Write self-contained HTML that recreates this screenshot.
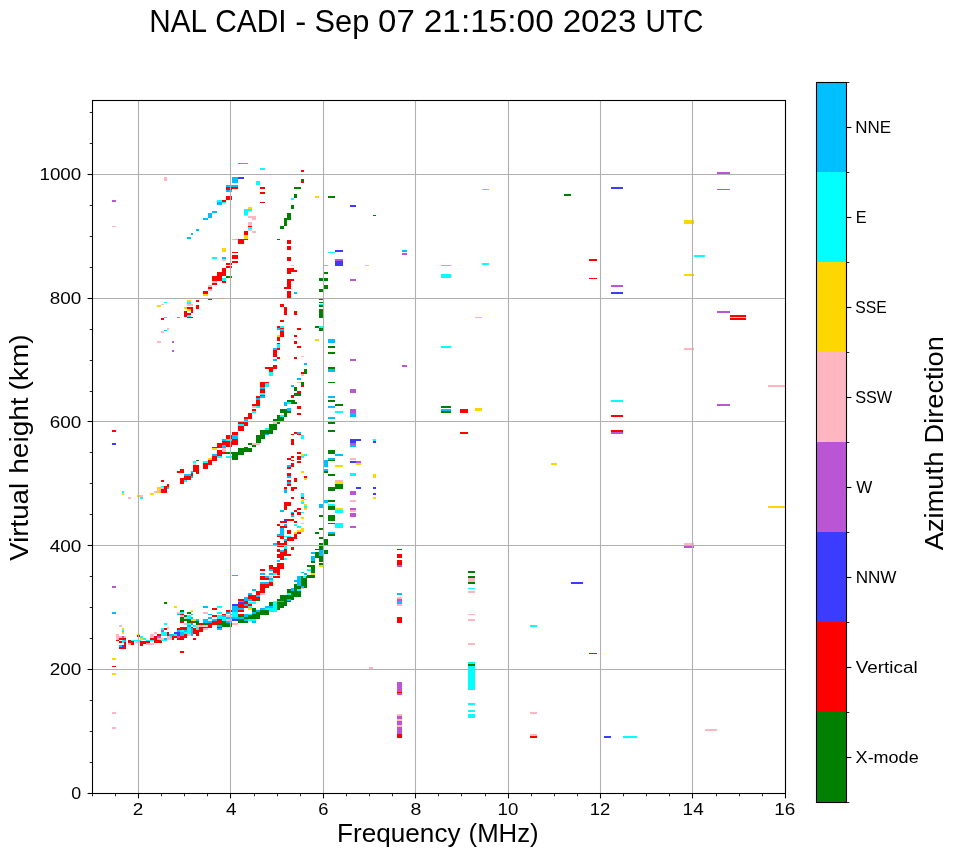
<!DOCTYPE html>
<html><head><meta charset="utf-8"><title>NAL CADI ionogram</title>
<style>html,body{margin:0;padding:0;background:#fff}body{width:958px;height:857px;overflow:hidden;font-family:"Liberation Sans",sans-serif}svg{display:block}text{font-family:"Liberation Sans",sans-serif;fill:#000}</style>
</head><body>
<svg width="958" height="857" viewBox="0 0 958 857" style="will-change:transform">
<g shape-rendering="crispEdges">
<rect x="112" y="586" width="4" height="2" fill="#ba55d3"/>
<rect x="112" y="612" width="4" height="2" fill="#00bfff"/>
<rect x="112" y="658" width="4" height="2" fill="#ffd700"/>
<rect x="112" y="666" width="4" height="1" fill="#ff0000"/>
<rect x="112" y="673" width="4" height="2" fill="#ffd700"/>
<rect x="232" y="575" width="6" height="1" fill="#00bfff"/>
<rect x="164" y="602" width="3" height="2" fill="#008000"/>
<rect x="174" y="606" width="3" height="2" fill="#ffd700"/>
<rect x="164" y="623" width="3" height="2" fill="#00ffff"/>
<rect x="180" y="651" width="4" height="2" fill="#ff0000"/>
<rect x="193" y="638" width="3" height="2" fill="#ff0000"/>
<rect x="119" y="625" width="3" height="2" fill="#ffb6c1"/>
<rect x="122" y="628" width="2" height="6" fill="#ffd700"/>
<rect x="122" y="630" width="2" height="2" fill="#00ffff"/>
<rect x="116" y="634" width="3" height="6" fill="#ffb6c1"/>
<rect x="119" y="636" width="7" height="2" fill="#ffb6c1"/>
<rect x="122" y="636" width="2" height="2" fill="#ba55d3"/>
<rect x="116" y="640" width="3" height="1" fill="#ff0000"/>
<rect x="119" y="638" width="7" height="2" fill="#ff0000"/>
<rect x="119" y="641" width="3" height="2" fill="#ff0000"/>
<rect x="122" y="640" width="2" height="3" fill="#00ffff"/>
<rect x="124" y="640" width="2" height="3" fill="#00bfff"/>
<rect x="124" y="642" width="2" height="7" fill="#ff0000"/>
<rect x="119" y="647" width="7" height="2" fill="#ff0000"/>
<rect x="119" y="645" width="3" height="2" fill="#00bfff"/>
<rect x="122" y="645" width="2" height="2" fill="#3c3cff"/>
<rect x="128" y="640" width="3" height="3" fill="#ff0000"/>
<rect x="128" y="643" width="3" height="2" fill="#ffb6c1"/>
<rect x="131" y="641" width="3" height="4" fill="#ff0000"/>
<rect x="131" y="640" width="10" height="1" fill="#00ffff"/>
<rect x="135" y="641" width="5" height="2" fill="#ffb6c1"/>
<rect x="137" y="634" width="3" height="2" fill="#ffd700"/>
<rect x="137" y="635" width="3" height="2" fill="#ff0000"/>
<rect x="140" y="636" width="3" height="2" fill="#00ffff"/>
<rect x="140" y="638" width="3" height="2" fill="#ffd700"/>
<rect x="143" y="638" width="3" height="2" fill="#00ffff"/>
<rect x="140" y="641" width="10" height="3" fill="#ff0000"/>
<rect x="140" y="644" width="3" height="2" fill="#ff0000"/>
<rect x="146" y="643" width="8" height="2" fill="#ffb6c1"/>
<rect x="146" y="640" width="8" height="1" fill="#00ffff"/>
<rect x="150" y="634" width="4" height="4" fill="#ffb6c1"/>
<rect x="154" y="632" width="3" height="2" fill="#ffb6c1"/>
<rect x="150" y="638" width="7" height="2" fill="#ff0000"/>
<rect x="154" y="636" width="3" height="2" fill="#ff0000"/>
<rect x="154" y="640" width="8" height="3" fill="#ff0000"/>
<rect x="157" y="634" width="4" height="2" fill="#ff0000"/>
<rect x="157" y="636" width="4" height="2" fill="#ba55d3"/>
<rect x="157" y="638" width="8" height="2" fill="#ffb6c1"/>
<rect x="161" y="628" width="3" height="2" fill="#00ffff"/>
<rect x="161" y="630" width="3" height="2" fill="#ba55d3"/>
<rect x="164" y="628" width="3" height="2" fill="#ff0000"/>
<rect x="167" y="627" width="2" height="2" fill="#ffb6c1"/>
<rect x="161" y="632" width="6" height="4" fill="#00ffff"/>
<rect x="167" y="632" width="2" height="4" fill="#ff0000"/>
<rect x="164" y="638" width="3" height="2" fill="#00bfff"/>
<rect x="167" y="636" width="5" height="4" fill="#ffb6c1"/>
<rect x="161" y="640" width="6" height="1" fill="#00ffff"/>
<rect x="172" y="636" width="2" height="4" fill="#ff0000"/>
<rect x="169" y="634" width="5" height="2" fill="#00bfff"/>
<rect x="174" y="632" width="7" height="3" fill="#3c3cff"/>
<rect x="177" y="627" width="10" height="3" fill="#ff0000"/>
<rect x="180" y="630" width="8" height="4" fill="#00ffff"/>
<rect x="180" y="632" width="5" height="2" fill="#00bfff"/>
<rect x="177" y="636" width="8" height="4" fill="#ff0000"/>
<rect x="177" y="635" width="3" height="2" fill="#ba55d3"/>
<rect x="183" y="634" width="4" height="4" fill="#ff0000"/>
<rect x="187" y="634" width="3" height="2" fill="#ffb6c1"/>
<rect x="183" y="627" width="5" height="3" fill="#ff0000"/>
<rect x="187" y="626" width="6" height="9" fill="#00ffff"/>
<rect x="193" y="627" width="7" height="5" fill="#ff0000"/>
<rect x="196" y="632" width="3" height="4" fill="#ff0000"/>
<rect x="199" y="628" width="4" height="4" fill="#ff0000"/>
<rect x="192" y="622" width="5" height="6" fill="#ff0000"/>
<rect x="192" y="624" width="5" height="3" fill="#00ffff"/>
<rect x="196" y="625" width="12" height="2" fill="#ffb6c1"/>
<rect x="203" y="627" width="5" height="1" fill="#ba55d3"/>
<rect x="208" y="624" width="4" height="3" fill="#ff0000"/>
<rect x="199" y="623" width="5" height="2" fill="#ff0000"/>
<rect x="203" y="628" width="5" height="2" fill="#ffb6c1"/>
<rect x="180" y="610" width="4" height="2" fill="#008000"/>
<rect x="177" y="612" width="3" height="2" fill="#ffb6c1"/>
<rect x="180" y="612" width="4" height="2" fill="#00ffff"/>
<rect x="177" y="614" width="3" height="1" fill="#00bfff"/>
<rect x="187" y="612" width="4" height="2" fill="#008000"/>
<rect x="191" y="610" width="2" height="2" fill="#ffd700"/>
<rect x="180" y="614" width="4" height="2" fill="#ffb6c1"/>
<rect x="187" y="614" width="5" height="4" fill="#00ffff"/>
<rect x="183" y="614" width="3" height="2" fill="#ff0000"/>
<rect x="180" y="616" width="8" height="4" fill="#008000"/>
<rect x="187" y="618" width="12" height="3" fill="#008000"/>
<rect x="191" y="619" width="5" height="2" fill="#ffd700"/>
<rect x="196" y="619" width="3" height="2" fill="#00bfff"/>
<rect x="184" y="616" width="3" height="2" fill="#ffb6c1"/>
<rect x="180" y="621" width="4" height="2" fill="#ff0000"/>
<rect x="184" y="623" width="3" height="2" fill="#ffb6c1"/>
<rect x="187" y="620" width="5" height="2" fill="#008000"/>
<rect x="187" y="623" width="8" height="2" fill="#00ffff"/>
<rect x="196" y="621" width="3" height="3" fill="#008000"/>
<rect x="188" y="624" width="3" height="2" fill="#00bfff"/>
<rect x="203" y="606" width="5" height="2" fill="#00bfff"/>
<rect x="212" y="608" width="5" height="2" fill="#ff0000"/>
<rect x="217" y="606" width="5" height="2" fill="#00ffff"/>
<rect x="203" y="612" width="5" height="2" fill="#ffb6c1"/>
<rect x="208" y="614" width="4" height="1" fill="#00ffff"/>
<rect x="208" y="617" width="4" height="2" fill="#00bfff"/>
<rect x="212" y="615" width="5" height="2" fill="#ff0000"/>
<rect x="203" y="619" width="9" height="4" fill="#00bfff"/>
<rect x="217" y="612" width="5" height="9" fill="#00ffff"/>
<rect x="212" y="619" width="5" height="2" fill="#00ffff"/>
<rect x="212" y="621" width="10" height="4" fill="#ff0000"/>
<rect x="199" y="623" width="23" height="2" fill="#ff0000"/>
<rect x="203" y="623" width="8" height="2" fill="#008000"/>
<rect x="217" y="621" width="15" height="6" fill="#008000"/>
<rect x="217" y="626" width="5" height="2" fill="#00ffff"/>
<rect x="217" y="628" width="5" height="2" fill="#00bfff"/>
<rect x="222" y="615" width="5" height="6" fill="#00ffff"/>
<rect x="222" y="613" width="5" height="2" fill="#ff0000"/>
<rect x="226" y="610" width="6" height="2" fill="#ff0000"/>
<rect x="226" y="612" width="6" height="2" fill="#00bfff"/>
<rect x="226" y="615" width="6" height="6" fill="#ffb6c1"/>
<rect x="227" y="617" width="5" height="2" fill="#00ffff"/>
<rect x="222" y="621" width="10" height="6" fill="#008000"/>
<rect x="232" y="604" width="6" height="2" fill="#3c3cff"/>
<rect x="232" y="606" width="6" height="10" fill="#00bfff"/>
<rect x="232" y="612" width="6" height="5" fill="#00ffff"/>
<rect x="232" y="618" width="6" height="2" fill="#3c3cff"/>
<rect x="232" y="623" width="6" height="2" fill="#ffb6c1"/>
<rect x="238" y="599" width="6" height="2" fill="#ff0000"/>
<rect x="238" y="602" width="6" height="2" fill="#3c3cff"/>
<rect x="238" y="604" width="10" height="4" fill="#ff0000"/>
<rect x="238" y="610" width="6" height="2" fill="#ff0000"/>
<rect x="238" y="612" width="6" height="2" fill="#00ffff"/>
<rect x="238" y="614" width="14" height="5" fill="#008000"/>
<rect x="244" y="616" width="8" height="2" fill="#00bfff"/>
<rect x="238" y="619" width="10" height="3" fill="#008000"/>
<rect x="244" y="597" width="4" height="4" fill="#00bfff"/>
<rect x="244" y="601" width="4" height="3" fill="#ff0000"/>
<rect x="248" y="593" width="4" height="3" fill="#00bfff"/>
<rect x="248" y="596" width="4" height="8" fill="#ff0000"/>
<rect x="248" y="601" width="4" height="5" fill="#00ffff"/>
<rect x="248" y="608" width="4" height="2" fill="#ffd700"/>
<rect x="244" y="604" width="4" height="2" fill="#00bfff"/>
<rect x="232" y="604" width="6" height="2" fill="#3c3cff"/>
<rect x="232" y="606" width="6" height="8" fill="#00bfff"/>
<rect x="232" y="612" width="6" height="5" fill="#00ffff"/>
<rect x="230" y="610" width="2" height="7" fill="#ff0000"/>
<rect x="232" y="619" width="6" height="2" fill="#3c3cff"/>
<rect x="230" y="623" width="2" height="4" fill="#008000"/>
<rect x="232" y="623" width="6" height="2" fill="#ffb6c1"/>
<rect x="238" y="599" width="6" height="2" fill="#ff0000"/>
<rect x="238" y="601" width="6" height="2" fill="#3c3cff"/>
<rect x="238" y="604" width="10" height="4" fill="#ff0000"/>
<rect x="244" y="597" width="4" height="4" fill="#00bfff"/>
<rect x="244" y="601" width="4" height="3" fill="#ff0000"/>
<rect x="244" y="604" width="4" height="2" fill="#00ffff"/>
<rect x="238" y="608" width="6" height="2" fill="#00bfff"/>
<rect x="238" y="610" width="6" height="2" fill="#ff0000"/>
<rect x="248" y="606" width="4" height="2" fill="#00ffff"/>
<rect x="248" y="608" width="4" height="2" fill="#ffd700"/>
<rect x="248" y="595" width="8" height="5" fill="#ff0000"/>
<rect x="248" y="593" width="4" height="2" fill="#00bfff"/>
<rect x="248" y="600" width="4" height="2" fill="#00bfff"/>
<rect x="252" y="601" width="4" height="2" fill="#00ffff"/>
<rect x="256" y="599" width="4" height="2" fill="#008000"/>
<rect x="260" y="593" width="5" height="2" fill="#ffb6c1"/>
<rect x="252" y="589" width="4" height="2" fill="#00bfff"/>
<rect x="252" y="608" width="4" height="3" fill="#008000"/>
<rect x="256" y="610" width="4" height="2" fill="#00bfff"/>
<rect x="238" y="614" width="10" height="2" fill="#008000"/>
<rect x="244" y="614" width="4" height="2" fill="#00bfff"/>
<rect x="248" y="614" width="13" height="5" fill="#008000"/>
<rect x="248" y="619" width="5" height="2" fill="#00ffff"/>
<rect x="238" y="619" width="10" height="4" fill="#008000"/>
<rect x="252" y="621" width="4" height="2" fill="#00bfff"/>
<rect x="256" y="611" width="13" height="4" fill="#008000"/>
<rect x="260" y="608" width="17" height="4" fill="#00ffff"/>
<rect x="260" y="608" width="5" height="2" fill="#00bfff"/>
<rect x="265" y="606" width="5" height="2" fill="#00bfff"/>
<rect x="269" y="602" width="4" height="4" fill="#008000"/>
<rect x="273" y="601" width="3" height="1" fill="#ffd700"/>
<rect x="273" y="602" width="4" height="8" fill="#00ffff"/>
<rect x="277" y="599" width="9" height="8" fill="#008000"/>
<rect x="277" y="607" width="5" height="3" fill="#008000"/>
<rect x="277" y="600" width="7" height="2" fill="#00bfff"/>
<rect x="280" y="595" width="13" height="6" fill="#008000"/>
<rect x="287" y="599" width="4" height="3" fill="#008000"/>
<rect x="287" y="589" width="5" height="4" fill="#008000"/>
<rect x="287" y="593" width="5" height="2" fill="#00ffff"/>
<rect x="291" y="588" width="3" height="2" fill="#00bfff"/>
<rect x="293" y="591" width="8" height="7" fill="#008000"/>
<rect x="294" y="584" width="8" height="7" fill="#008000"/>
<rect x="297" y="589" width="4" height="2" fill="#00ffff"/>
<rect x="301" y="588" width="3" height="1" fill="#ffb6c1"/>
<rect x="294" y="580" width="3" height="2" fill="#00bfff"/>
<rect x="297" y="576" width="4" height="9" fill="#00bfff"/>
<rect x="301" y="576" width="6" height="12" fill="#008000"/>
<rect x="303" y="576" width="3" height="2" fill="#00ffff"/>
<rect x="307" y="575" width="8" height="3" fill="#008000"/>
<rect x="301" y="569" width="3" height="4" fill="#00bfff"/>
<rect x="304" y="573" width="3" height="2" fill="#00bfff"/>
<rect x="307" y="569" width="4" height="2" fill="#00ffff"/>
<rect x="307" y="565" width="8" height="2" fill="#008000"/>
<rect x="311" y="567" width="4" height="7" fill="#008000"/>
<rect x="311" y="573" width="4" height="2" fill="#ffd700"/>
<rect x="311" y="552" width="4" height="2" fill="#00bfff"/>
<rect x="311" y="556" width="4" height="7" fill="#00bfff"/>
<rect x="311" y="561" width="4" height="2" fill="#008000"/>
<rect x="315" y="552" width="4" height="6" fill="#008000"/>
<rect x="315" y="549" width="4" height="1" fill="#008000"/>
<rect x="319" y="556" width="4" height="6" fill="#008000"/>
<rect x="319" y="550" width="4" height="6" fill="#00bfff"/>
<rect x="319" y="546" width="4" height="4" fill="#008000"/>
<rect x="319" y="563" width="4" height="2" fill="#008000"/>
<rect x="319" y="565" width="4" height="2" fill="#ffd700"/>
<rect x="324" y="550" width="4" height="4" fill="#008000"/>
<rect x="319" y="543" width="4" height="2" fill="#008000"/>
<rect x="324" y="539" width="4" height="6" fill="#008000"/>
<rect x="319" y="537" width="4" height="2" fill="#008000"/>
<rect x="315" y="532" width="4" height="2" fill="#008000"/>
<rect x="319" y="528" width="4" height="2" fill="#008000"/>
<rect x="328" y="532" width="7" height="2" fill="#00bfff"/>
<rect x="328" y="534" width="7" height="2" fill="#008000"/>
<rect x="328" y="523" width="7" height="1" fill="#008000"/>
<rect x="335" y="523" width="8" height="5" fill="#00ffff"/>
<rect x="328" y="515" width="7" height="6" fill="#008000"/>
<rect x="319" y="515" width="4" height="2" fill="#008000"/>
<rect x="335" y="510" width="8" height="3" fill="#00ffff"/>
<rect x="335" y="508" width="8" height="2" fill="#ffd700"/>
<rect x="328" y="506" width="7" height="4" fill="#008000"/>
<rect x="328" y="504" width="7" height="2" fill="#00ffff"/>
<rect x="328" y="500" width="7" height="2" fill="#008000"/>
<rect x="324" y="500" width="4" height="3" fill="#00bfff"/>
<rect x="319" y="504" width="4" height="4" fill="#00bfff"/>
<rect x="350" y="500" width="6" height="2" fill="#ffb6c1"/>
<rect x="350" y="508" width="6" height="2" fill="#ba55d3"/>
<rect x="350" y="510" width="6" height="2" fill="#ffb6c1"/>
<rect x="350" y="513" width="6" height="4" fill="#ba55d3"/>
<rect x="350" y="526" width="6" height="2" fill="#ba55d3"/>
<rect x="232" y="575" width="6" height="1" fill="#00bfff"/>
<rect x="260" y="569" width="5" height="2" fill="#ff0000"/>
<rect x="260" y="573" width="5" height="2" fill="#00bfff"/>
<rect x="260" y="576" width="9" height="4" fill="#ff0000"/>
<rect x="265" y="576" width="5" height="2" fill="#00bfff"/>
<rect x="269" y="576" width="3" height="2" fill="#ffb6c1"/>
<rect x="269" y="565" width="4" height="4" fill="#ff0000"/>
<rect x="273" y="567" width="7" height="8" fill="#ff0000"/>
<rect x="269" y="573" width="4" height="2" fill="#00bfff"/>
<rect x="273" y="573" width="4" height="2" fill="#00ffff"/>
<rect x="277" y="575" width="3" height="2" fill="#ffd700"/>
<rect x="273" y="576" width="7" height="2" fill="#ff0000"/>
<rect x="260" y="582" width="8" height="2" fill="#00bfff"/>
<rect x="269" y="578" width="4" height="4" fill="#00bfff"/>
<rect x="260" y="584" width="9" height="6" fill="#ff0000"/>
<rect x="269" y="582" width="4" height="3" fill="#ff0000"/>
<rect x="260" y="589" width="5" height="4" fill="#ff0000"/>
<rect x="256" y="591" width="4" height="3" fill="#ff0000"/>
<rect x="277" y="563" width="7" height="6" fill="#ff0000"/>
<rect x="277" y="560" width="3" height="2" fill="#00ffff"/>
<rect x="284" y="558" width="3" height="2" fill="#00ffff"/>
<rect x="277" y="548" width="3" height="3" fill="#ff0000"/>
<rect x="277" y="552" width="10" height="8" fill="#ff0000"/>
<rect x="280" y="550" width="4" height="2" fill="#00bfff"/>
<rect x="284" y="547" width="3" height="2" fill="#00ffff"/>
<rect x="291" y="547" width="3" height="3" fill="#ff0000"/>
<rect x="287" y="553" width="4" height="2" fill="#ff0000"/>
<rect x="277" y="541" width="10" height="6" fill="#ff0000"/>
<rect x="273" y="543" width="4" height="2" fill="#00bfff"/>
<rect x="277" y="534" width="7" height="2" fill="#00bfff"/>
<rect x="280" y="528" width="4" height="7" fill="#00bfff"/>
<rect x="277" y="536" width="7" height="2" fill="#ff0000"/>
<rect x="287" y="537" width="8" height="4" fill="#ff0000"/>
<rect x="284" y="536" width="7" height="1" fill="#00ffff"/>
<rect x="287" y="530" width="4" height="4" fill="#ff0000"/>
<rect x="294" y="534" width="3" height="4" fill="#ff0000"/>
<rect x="297" y="532" width="4" height="2" fill="#ff0000"/>
<rect x="297" y="530" width="7" height="2" fill="#ffd700"/>
<rect x="301" y="528" width="3" height="2" fill="#ffd700"/>
<rect x="280" y="526" width="7" height="2" fill="#ff0000"/>
<rect x="284" y="524" width="3" height="2" fill="#00bfff"/>
<rect x="277" y="524" width="3" height="2" fill="#ff0000"/>
<rect x="280" y="521" width="7" height="2" fill="#ff0000"/>
<rect x="284" y="519" width="3" height="2" fill="#3c3cff"/>
<rect x="287" y="519" width="7" height="2" fill="#ff0000"/>
<rect x="294" y="521" width="3" height="2" fill="#ff0000"/>
<rect x="294" y="524" width="3" height="2" fill="#00ffff"/>
<rect x="297" y="526" width="4" height="2" fill="#00ffff"/>
<rect x="301" y="523" width="3" height="1" fill="#ffd700"/>
<rect x="301" y="517" width="3" height="2" fill="#ffd700"/>
<rect x="280" y="510" width="4" height="2" fill="#00bfff"/>
<rect x="284" y="506" width="3" height="4" fill="#ff0000"/>
<rect x="284" y="502" width="7" height="4" fill="#ff0000"/>
<rect x="291" y="512" width="3" height="2" fill="#00bfff"/>
<rect x="291" y="513" width="3" height="2" fill="#ff0000"/>
<rect x="291" y="515" width="3" height="2" fill="#00bfff"/>
<rect x="294" y="510" width="3" height="2" fill="#ff0000"/>
<rect x="297" y="508" width="4" height="2" fill="#ff0000"/>
<rect x="297" y="512" width="4" height="3" fill="#ff0000"/>
<rect x="301" y="512" width="3" height="1" fill="#00ffff"/>
<rect x="301" y="500" width="3" height="2" fill="#ffd700"/>
<rect x="301" y="502" width="3" height="2" fill="#00ffff"/>
<rect x="304" y="504" width="3" height="2" fill="#ffd700"/>
<rect x="304" y="506" width="3" height="2" fill="#00ffff"/>
<rect x="304" y="508" width="3" height="2" fill="#ffd700"/>
<rect x="232" y="432" width="6" height="3" fill="#ff0000"/>
<rect x="232" y="435" width="6" height="4" fill="#00bfff"/>
<rect x="232" y="439" width="6" height="6" fill="#ff0000"/>
<rect x="230" y="435" width="2" height="12" fill="#ff0000"/>
<rect x="238" y="422" width="10" height="4" fill="#ff0000"/>
<rect x="238" y="424" width="6" height="2" fill="#00ffff"/>
<rect x="238" y="426" width="6" height="5" fill="#ff0000"/>
<rect x="244" y="419" width="4" height="2" fill="#00bfff"/>
<rect x="244" y="417" width="8" height="2" fill="#ff0000"/>
<rect x="248" y="413" width="4" height="5" fill="#ff0000"/>
<rect x="252" y="411" width="4" height="2" fill="#00ffff"/>
<rect x="252" y="409" width="4" height="2" fill="#ff0000"/>
<rect x="252" y="406" width="4" height="2" fill="#ffb6c1"/>
<rect x="252" y="404" width="4" height="2" fill="#ff0000"/>
<rect x="256" y="406" width="4" height="2" fill="#00ffff"/>
<rect x="256" y="400" width="4" height="6" fill="#ff0000"/>
<rect x="256" y="396" width="4" height="2" fill="#ff0000"/>
<rect x="256" y="398" width="4" height="2" fill="#00bfff"/>
<rect x="260" y="396" width="5" height="2" fill="#00bfff"/>
<rect x="260" y="395" width="5" height="1" fill="#ff0000"/>
<rect x="260" y="393" width="5" height="2" fill="#00ffff"/>
<rect x="260" y="389" width="5" height="4" fill="#ff0000"/>
<rect x="260" y="387" width="5" height="2" fill="#00bfff"/>
<rect x="260" y="382" width="5" height="5" fill="#ff0000"/>
<rect x="265" y="382" width="4" height="1" fill="#ff0000"/>
<rect x="265" y="383" width="4" height="4" fill="#00ffff"/>
<rect x="269" y="372" width="4" height="4" fill="#00ffff"/>
<rect x="269" y="369" width="4" height="3" fill="#ff0000"/>
<rect x="265" y="367" width="8" height="2" fill="#ff0000"/>
<rect x="273" y="365" width="4" height="4" fill="#ff0000"/>
<rect x="273" y="359" width="4" height="2" fill="#00bfff"/>
<rect x="277" y="357" width="3" height="2" fill="#ff0000"/>
<rect x="294" y="357" width="3" height="2" fill="#ff0000"/>
<rect x="304" y="363" width="3" height="2" fill="#00bfff"/>
<rect x="232" y="452" width="6" height="8" fill="#008000"/>
<rect x="231" y="456" width="1" height="2" fill="#00ffff"/>
<rect x="238" y="448" width="14" height="4" fill="#008000"/>
<rect x="238" y="452" width="6" height="3" fill="#008000"/>
<rect x="244" y="447" width="4" height="2" fill="#008000"/>
<rect x="248" y="443" width="4" height="2" fill="#008000"/>
<rect x="252" y="443" width="8" height="2" fill="#ffb6c1"/>
<rect x="252" y="445" width="4" height="2" fill="#008000"/>
<rect x="256" y="435" width="5" height="8" fill="#008000"/>
<rect x="260" y="430" width="9" height="5" fill="#008000"/>
<rect x="260" y="435" width="5" height="4" fill="#008000"/>
<rect x="265" y="433" width="4" height="2" fill="#00bfff"/>
<rect x="265" y="428" width="4" height="2" fill="#00ffff"/>
<rect x="269" y="424" width="8" height="6" fill="#008000"/>
<rect x="265" y="430" width="8" height="4" fill="#008000"/>
<rect x="273" y="422" width="4" height="2" fill="#ffb6c1"/>
<rect x="277" y="422" width="3" height="2" fill="#008000"/>
<rect x="273" y="419" width="11" height="3" fill="#008000"/>
<rect x="277" y="415" width="7" height="4" fill="#008000"/>
<rect x="280" y="415" width="4" height="2" fill="#00ffff"/>
<rect x="280" y="409" width="8" height="4" fill="#008000"/>
<rect x="284" y="413" width="3" height="4" fill="#008000"/>
<rect x="287" y="408" width="4" height="3" fill="#00bfff"/>
<rect x="287" y="411" width="4" height="2" fill="#008000"/>
<rect x="284" y="402" width="3" height="4" fill="#00bfff"/>
<rect x="287" y="402" width="4" height="2" fill="#00ffff"/>
<rect x="287" y="400" width="8" height="2" fill="#008000"/>
<rect x="291" y="402" width="6" height="2" fill="#008000"/>
<rect x="291" y="395" width="3" height="3" fill="#ff0000"/>
<rect x="294" y="393" width="7" height="3" fill="#008000"/>
<rect x="297" y="391" width="4" height="2" fill="#ff0000"/>
<rect x="294" y="387" width="3" height="4" fill="#008000"/>
<rect x="291" y="385" width="3" height="2" fill="#00bfff"/>
<rect x="301" y="385" width="3" height="2" fill="#ff0000"/>
<rect x="301" y="382" width="3" height="3" fill="#008000"/>
<rect x="297" y="382" width="4" height="1" fill="#ffb6c1"/>
<rect x="297" y="378" width="4" height="2" fill="#00bfff"/>
<rect x="301" y="374" width="3" height="2" fill="#ffb6c1"/>
<rect x="301" y="372" width="3" height="2" fill="#ff0000"/>
<rect x="304" y="369" width="3" height="5" fill="#008000"/>
<rect x="297" y="406" width="4" height="3" fill="#ff0000"/>
<rect x="297" y="413" width="4" height="2" fill="#ff0000"/>
<rect x="291" y="434" width="3" height="1" fill="#ff0000"/>
<rect x="294" y="432" width="3" height="2" fill="#ff0000"/>
<rect x="297" y="432" width="4" height="2" fill="#00bfff"/>
<rect x="297" y="434" width="4" height="1" fill="#ff0000"/>
<rect x="301" y="435" width="3" height="4" fill="#00ffff"/>
<rect x="291" y="439" width="3" height="6" fill="#ff0000"/>
<rect x="297" y="452" width="4" height="2" fill="#ff0000"/>
<rect x="301" y="454" width="3" height="2" fill="#ffd700"/>
<rect x="304" y="454" width="3" height="2" fill="#00ffff"/>
<rect x="301" y="456" width="3" height="2" fill="#00ffff"/>
<rect x="291" y="456" width="3" height="2" fill="#ff0000"/>
<rect x="287" y="458" width="4" height="2" fill="#ff0000"/>
<rect x="297" y="456" width="4" height="4" fill="#ff0000"/>
<rect x="291" y="460" width="3" height="1" fill="#ff0000"/>
<rect x="297" y="461" width="4" height="2" fill="#ff0000"/>
<rect x="291" y="463" width="3" height="4" fill="#ff0000"/>
<rect x="287" y="465" width="4" height="2" fill="#00bfff"/>
<rect x="287" y="467" width="4" height="2" fill="#ff0000"/>
<rect x="301" y="471" width="3" height="2" fill="#ffd700"/>
<rect x="287" y="473" width="4" height="3" fill="#ff0000"/>
<rect x="287" y="476" width="4" height="2" fill="#00bfff"/>
<rect x="304" y="476" width="3" height="2" fill="#ff0000"/>
<rect x="304" y="478" width="3" height="2" fill="#ffd700"/>
<rect x="294" y="478" width="3" height="4" fill="#ff0000"/>
<rect x="287" y="480" width="4" height="2" fill="#ff0000"/>
<rect x="287" y="482" width="4" height="2" fill="#00bfff"/>
<rect x="287" y="484" width="4" height="2" fill="#ff0000"/>
<rect x="284" y="487" width="3" height="2" fill="#ff0000"/>
<rect x="284" y="489" width="3" height="4" fill="#00bfff"/>
<rect x="291" y="487" width="6" height="2" fill="#ff0000"/>
<rect x="291" y="489" width="3" height="2" fill="#ff0000"/>
<rect x="301" y="493" width="3" height="4" fill="#00ffff"/>
<rect x="291" y="497" width="3" height="2" fill="#ff0000"/>
<rect x="301" y="497" width="3" height="2" fill="#ff0000"/>
<rect x="304" y="499" width="3" height="1" fill="#ffd700"/>
<rect x="328" y="367" width="7" height="2" fill="#008000"/>
<rect x="328" y="369" width="7" height="3" fill="#00bfff"/>
<rect x="328" y="382" width="7" height="1" fill="#008000"/>
<rect x="328" y="396" width="7" height="2" fill="#00bfff"/>
<rect x="328" y="400" width="7" height="2" fill="#008000"/>
<rect x="335" y="404" width="8" height="2" fill="#008000"/>
<rect x="328" y="406" width="7" height="2" fill="#00bfff"/>
<rect x="335" y="411" width="8" height="2" fill="#00ffff"/>
<rect x="328" y="417" width="7" height="2" fill="#00bfff"/>
<rect x="328" y="422" width="7" height="2" fill="#008000"/>
<rect x="328" y="430" width="7" height="2" fill="#008000"/>
<rect x="328" y="450" width="7" height="4" fill="#008000"/>
<rect x="335" y="454" width="8" height="2" fill="#00bfff"/>
<rect x="328" y="458" width="7" height="2" fill="#00bfff"/>
<rect x="328" y="460" width="7" height="1" fill="#008000"/>
<rect x="324" y="460" width="4" height="7" fill="#00bfff"/>
<rect x="335" y="465" width="8" height="2" fill="#ffd700"/>
<rect x="324" y="469" width="4" height="2" fill="#00bfff"/>
<rect x="324" y="471" width="4" height="2" fill="#008000"/>
<rect x="328" y="474" width="7" height="2" fill="#008000"/>
<rect x="335" y="480" width="8" height="2" fill="#ffb6c1"/>
<rect x="335" y="482" width="8" height="2" fill="#ffd700"/>
<rect x="335" y="484" width="8" height="5" fill="#008000"/>
<rect x="328" y="487" width="7" height="4" fill="#008000"/>
<rect x="350" y="359" width="6" height="2" fill="#ba55d3"/>
<rect x="350" y="389" width="6" height="4" fill="#ba55d3"/>
<rect x="350" y="409" width="6" height="4" fill="#ba55d3"/>
<rect x="350" y="413" width="6" height="4" fill="#00bfff"/>
<rect x="350" y="439" width="11" height="2" fill="#3c3cff"/>
<rect x="350" y="441" width="6" height="2" fill="#3c3cff"/>
<rect x="350" y="443" width="6" height="2" fill="#ba55d3"/>
<rect x="350" y="445" width="6" height="2" fill="#00bfff"/>
<rect x="350" y="458" width="6" height="2" fill="#ffb6c1"/>
<rect x="350" y="461" width="6" height="2" fill="#3c3cff"/>
<rect x="356" y="461" width="5" height="2" fill="#ba55d3"/>
<rect x="356" y="463" width="5" height="2" fill="#ffd700"/>
<rect x="350" y="473" width="6" height="3" fill="#00ffff"/>
<rect x="356" y="487" width="5" height="2" fill="#3c3cff"/>
<rect x="350" y="491" width="6" height="4" fill="#ba55d3"/>
<rect x="373" y="439" width="3" height="2" fill="#00ffff"/>
<rect x="373" y="441" width="3" height="2" fill="#3c3cff"/>
<rect x="373" y="474" width="3" height="4" fill="#ffd700"/>
<rect x="373" y="487" width="3" height="2" fill="#3c3cff"/>
<rect x="373" y="493" width="3" height="2" fill="#3c3cff"/>
<rect x="373" y="497" width="3" height="2" fill="#ffd700"/>
<rect x="244" y="214" width="4" height="1" fill="#00ffff"/>
<rect x="244" y="215" width="4" height="1" fill="#ffd700"/>
<rect x="248" y="216" width="8" height="2" fill="#ffb6c1"/>
<rect x="252" y="218" width="4" height="2" fill="#ffb6c1"/>
<rect x="248" y="222" width="4" height="4" fill="#ffb6c1"/>
<rect x="248" y="226" width="4" height="1" fill="#ff0000"/>
<rect x="248" y="227" width="4" height="2" fill="#00ffff"/>
<rect x="248" y="229" width="4" height="2" fill="#ffb6c1"/>
<rect x="252" y="231" width="4" height="2" fill="#ffb6c1"/>
<rect x="244" y="231" width="4" height="4" fill="#ff0000"/>
<rect x="244" y="235" width="4" height="4" fill="#ffd700"/>
<rect x="232" y="239" width="6" height="1" fill="#ffd700"/>
<rect x="238" y="239" width="6" height="5" fill="#ff0000"/>
<rect x="244" y="239" width="4" height="1" fill="#ff0000"/>
<rect x="232" y="252" width="6" height="1" fill="#ff0000"/>
<rect x="232" y="255" width="6" height="4" fill="#ff0000"/>
<rect x="232" y="261" width="6" height="2" fill="#ff0000"/>
<rect x="231" y="263" width="1" height="2" fill="#ff0000"/>
<rect x="231" y="266" width="1" height="2" fill="#00ffff"/>
<rect x="231" y="276" width="1" height="2" fill="#008000"/>
<rect x="287" y="214" width="4" height="6" fill="#008000"/>
<rect x="284" y="218" width="3" height="8" fill="#008000"/>
<rect x="280" y="226" width="4" height="3" fill="#008000"/>
<rect x="277" y="239" width="3" height="1" fill="#008000"/>
<rect x="373" y="215" width="3" height="1" fill="#008000"/>
<rect x="287" y="240" width="4" height="4" fill="#ff0000"/>
<rect x="287" y="246" width="4" height="4" fill="#ff0000"/>
<rect x="287" y="257" width="4" height="4" fill="#ff0000"/>
<rect x="291" y="265" width="3" height="1" fill="#ffd700"/>
<rect x="287" y="268" width="7" height="4" fill="#ff0000"/>
<rect x="287" y="272" width="4" height="2" fill="#ff0000"/>
<rect x="293" y="270" width="4" height="2" fill="#ff0000"/>
<rect x="287" y="279" width="7" height="2" fill="#ff0000"/>
<rect x="287" y="281" width="4" height="8" fill="#ff0000"/>
<rect x="284" y="287" width="3" height="2" fill="#ff0000"/>
<rect x="287" y="291" width="4" height="7" fill="#ff0000"/>
<rect x="294" y="292" width="3" height="2" fill="#00bfff"/>
<rect x="280" y="304" width="4" height="3" fill="#ff0000"/>
<rect x="284" y="307" width="3" height="8" fill="#ff0000"/>
<rect x="294" y="311" width="3" height="4" fill="#ff0000"/>
<rect x="280" y="320" width="4" height="2" fill="#ff0000"/>
<rect x="277" y="326" width="3" height="2" fill="#ff0000"/>
<rect x="280" y="326" width="4" height="2" fill="#00ffff"/>
<rect x="277" y="328" width="3" height="2" fill="#00bfff"/>
<rect x="280" y="328" width="4" height="1" fill="#ff0000"/>
<rect x="280" y="329" width="4" height="2" fill="#00bfff"/>
<rect x="280" y="331" width="4" height="6" fill="#ff0000"/>
<rect x="297" y="328" width="4" height="2" fill="#ff0000"/>
<rect x="277" y="335" width="3" height="2" fill="#ffd700"/>
<rect x="277" y="337" width="3" height="4" fill="#ff0000"/>
<rect x="294" y="335" width="3" height="2" fill="#ff0000"/>
<rect x="294" y="341" width="3" height="3" fill="#ff0000"/>
<rect x="277" y="343" width="3" height="1" fill="#ff0000"/>
<rect x="277" y="344" width="3" height="4" fill="#00ffff"/>
<rect x="297" y="346" width="4" height="2" fill="#ff0000"/>
<rect x="273" y="348" width="4" height="2" fill="#00bfff"/>
<rect x="277" y="348" width="3" height="2" fill="#ff0000"/>
<rect x="273" y="350" width="4" height="7" fill="#ff0000"/>
<rect x="301" y="356" width="3" height="1" fill="#ffb6c1"/>
<rect x="324" y="272" width="4" height="2" fill="#008000"/>
<rect x="319" y="278" width="4" height="3" fill="#008000"/>
<rect x="324" y="278" width="4" height="3" fill="#008000"/>
<rect x="324" y="285" width="4" height="4" fill="#008000"/>
<rect x="319" y="289" width="4" height="3" fill="#008000"/>
<rect x="319" y="299" width="4" height="1" fill="#008000"/>
<rect x="319" y="302" width="4" height="1" fill="#008000"/>
<rect x="319" y="304" width="4" height="1" fill="#00ffff"/>
<rect x="319" y="305" width="4" height="2" fill="#008000"/>
<rect x="319" y="309" width="4" height="9" fill="#008000"/>
<rect x="315" y="326" width="4" height="2" fill="#008000"/>
<rect x="319" y="326" width="4" height="2" fill="#00ffff"/>
<rect x="319" y="328" width="4" height="3" fill="#008000"/>
<rect x="315" y="339" width="4" height="2" fill="#ffd700"/>
<rect x="328" y="339" width="7" height="4" fill="#00bfff"/>
<rect x="328" y="346" width="7" height="2" fill="#008000"/>
<rect x="328" y="352" width="7" height="2" fill="#008000"/>
<rect x="328" y="252" width="7" height="1" fill="#00ffff"/>
<rect x="335" y="250" width="8" height="2" fill="#3c3cff"/>
<rect x="335" y="259" width="8" height="2" fill="#ba55d3"/>
<rect x="335" y="261" width="8" height="5" fill="#3c3cff"/>
<rect x="324" y="265" width="4" height="1" fill="#00ffff"/>
<rect x="365" y="265" width="4" height="1" fill="#ffd700"/>
<rect x="350" y="279" width="6" height="2" fill="#ba55d3"/>
<rect x="238" y="163" width="10" height="1" fill="#00bfff"/>
<rect x="260" y="168" width="5" height="2" fill="#00ffff"/>
<rect x="301" y="170" width="3" height="2" fill="#ff0000"/>
<rect x="232" y="177" width="6" height="6" fill="#00bfff"/>
<rect x="238" y="177" width="6" height="2" fill="#3c3cff"/>
<rect x="256" y="181" width="4" height="4" fill="#00ffff"/>
<rect x="231" y="185" width="7" height="2" fill="#00bfff"/>
<rect x="231" y="187" width="7" height="2" fill="#ff0000"/>
<rect x="231" y="189" width="1" height="2" fill="#00ffff"/>
<rect x="231" y="196" width="1" height="4" fill="#ff0000"/>
<rect x="260" y="187" width="5" height="2" fill="#ff0000"/>
<rect x="260" y="192" width="5" height="2" fill="#ff0000"/>
<rect x="260" y="202" width="5" height="1" fill="#ff0000"/>
<rect x="248" y="207" width="4" height="2" fill="#ffd700"/>
<rect x="244" y="209" width="8" height="2" fill="#00ffff"/>
<rect x="244" y="211" width="4" height="3" fill="#00ffff"/>
<rect x="301" y="179" width="3" height="2" fill="#008000"/>
<rect x="301" y="181" width="3" height="2" fill="#ff0000"/>
<rect x="294" y="187" width="7" height="2" fill="#008000"/>
<rect x="294" y="194" width="3" height="4" fill="#008000"/>
<rect x="291" y="198" width="3" height="2" fill="#00ffff"/>
<rect x="291" y="205" width="3" height="4" fill="#008000"/>
<rect x="287" y="213" width="4" height="1" fill="#008000"/>
<rect x="315" y="196" width="4" height="2" fill="#ffd700"/>
<rect x="328" y="196" width="7" height="2" fill="#008000"/>
<rect x="350" y="205" width="6" height="2" fill="#3c3cff"/>
<rect x="112" y="200" width="4" height="2" fill="#ba55d3"/>
<rect x="112" y="226" width="4" height="1" fill="#ffb6c1"/>
<rect x="164" y="177" width="3" height="4" fill="#ffb6c1"/>
<rect x="226" y="185" width="6" height="2" fill="#00bfff"/>
<rect x="226" y="187" width="6" height="3" fill="#ff0000"/>
<rect x="226" y="190" width="6" height="2" fill="#00bfff"/>
<rect x="226" y="196" width="6" height="4" fill="#ff0000"/>
<rect x="222" y="200" width="4" height="2" fill="#ff0000"/>
<rect x="217" y="200" width="5" height="2" fill="#00ffff"/>
<rect x="217" y="202" width="5" height="3" fill="#00bfff"/>
<rect x="222" y="202" width="4" height="1" fill="#00ffff"/>
<rect x="212" y="211" width="5" height="2" fill="#00bfff"/>
<rect x="208" y="213" width="4" height="5" fill="#00bfff"/>
<rect x="203" y="218" width="5" height="2" fill="#00bfff"/>
<rect x="196" y="229" width="3" height="2" fill="#00bfff"/>
<rect x="191" y="233" width="2" height="2" fill="#00bfff"/>
<rect x="187" y="237" width="4" height="2" fill="#00bfff"/>
<rect x="222" y="248" width="4" height="4" fill="#ffd700"/>
<rect x="212" y="257" width="5" height="2" fill="#00ffff"/>
<rect x="222" y="257" width="4" height="2" fill="#00bfff"/>
<rect x="222" y="259" width="4" height="2" fill="#ffb6c1"/>
<rect x="226" y="263" width="6" height="2" fill="#ff0000"/>
<rect x="226" y="266" width="6" height="2" fill="#ff0000"/>
<rect x="222" y="268" width="4" height="8" fill="#ff0000"/>
<rect x="217" y="272" width="5" height="6" fill="#ff0000"/>
<rect x="212" y="276" width="10" height="5" fill="#ff0000"/>
<rect x="226" y="276" width="6" height="2" fill="#008000"/>
<rect x="222" y="278" width="4" height="3" fill="#00ffff"/>
<rect x="222" y="281" width="4" height="2" fill="#ff0000"/>
<rect x="212" y="281" width="5" height="2" fill="#ffb6c1"/>
<rect x="212" y="283" width="5" height="2" fill="#ff0000"/>
<rect x="208" y="285" width="4" height="2" fill="#ffb6c1"/>
<rect x="208" y="287" width="4" height="2" fill="#ff0000"/>
<rect x="208" y="289" width="4" height="2" fill="#ffb6c1"/>
<rect x="203" y="291" width="5" height="3" fill="#ff0000"/>
<rect x="203" y="294" width="5" height="2" fill="#ffd700"/>
<rect x="208" y="299" width="4" height="1" fill="#ff0000"/>
<rect x="196" y="300" width="3" height="2" fill="#ff0000"/>
<rect x="187" y="300" width="4" height="2" fill="#ffd700"/>
<rect x="187" y="302" width="4" height="1" fill="#00ffff"/>
<rect x="164" y="302" width="3" height="1" fill="#00ffff"/>
<rect x="157" y="305" width="4" height="2" fill="#ffd700"/>
<rect x="161" y="304" width="3" height="1" fill="#ffb6c1"/>
<rect x="187" y="302" width="4" height="2" fill="#00ffff"/>
<rect x="187" y="304" width="6" height="2" fill="#ffb6c1"/>
<rect x="184" y="307" width="3" height="2" fill="#ffd700"/>
<rect x="187" y="307" width="6" height="2" fill="#ff0000"/>
<rect x="187" y="309" width="4" height="2" fill="#ffd700"/>
<rect x="191" y="309" width="2" height="4" fill="#ff0000"/>
<rect x="184" y="311" width="3" height="6" fill="#ff0000"/>
<rect x="187" y="313" width="4" height="2" fill="#ff0000"/>
<rect x="187" y="315" width="4" height="2" fill="#00ffff"/>
<rect x="187" y="317" width="6" height="1" fill="#ff0000"/>
<rect x="196" y="305" width="3" height="4" fill="#ff0000"/>
<rect x="161" y="318" width="3" height="2" fill="#ff0000"/>
<rect x="164" y="317" width="3" height="1" fill="#00ffff"/>
<rect x="177" y="317" width="3" height="1" fill="#00bfff"/>
<rect x="167" y="328" width="2" height="2" fill="#ffb6c1"/>
<rect x="164" y="330" width="3" height="1" fill="#00bfff"/>
<rect x="161" y="331" width="3" height="2" fill="#ffb6c1"/>
<rect x="157" y="341" width="4" height="2" fill="#ffb6c1"/>
<rect x="172" y="341" width="2" height="2" fill="#ba55d3"/>
<rect x="172" y="350" width="2" height="2" fill="#ba55d3"/>
<rect x="112" y="430" width="4" height="2" fill="#ff0000"/>
<rect x="112" y="443" width="4" height="2" fill="#3c3cff"/>
<rect x="122" y="491" width="2" height="2" fill="#00ffff"/>
<rect x="122" y="493" width="2" height="2" fill="#ffd700"/>
<rect x="128" y="497" width="3" height="2" fill="#ffb6c1"/>
<rect x="137" y="495" width="3" height="2" fill="#ffd700"/>
<rect x="140" y="495" width="3" height="2" fill="#ffb6c1"/>
<rect x="140" y="497" width="3" height="2" fill="#00ffff"/>
<rect x="150" y="493" width="4" height="2" fill="#ffd700"/>
<rect x="154" y="491" width="3" height="2" fill="#ffb6c1"/>
<rect x="157" y="487" width="4" height="2" fill="#ffd700"/>
<rect x="157" y="489" width="4" height="2" fill="#ffb6c1"/>
<rect x="157" y="491" width="4" height="2" fill="#ffd700"/>
<rect x="161" y="480" width="3" height="2" fill="#ff0000"/>
<rect x="161" y="486" width="3" height="1" fill="#00ffff"/>
<rect x="161" y="487" width="3" height="2" fill="#ffb6c1"/>
<rect x="161" y="489" width="6" height="4" fill="#ff0000"/>
<rect x="164" y="486" width="3" height="3" fill="#ff0000"/>
<rect x="167" y="484" width="2" height="3" fill="#ff0000"/>
<rect x="167" y="487" width="2" height="2" fill="#00bfff"/>
<rect x="177" y="471" width="7" height="2" fill="#ff0000"/>
<rect x="180" y="469" width="4" height="2" fill="#ff0000"/>
<rect x="180" y="478" width="4" height="6" fill="#ff0000"/>
<rect x="184" y="474" width="7" height="2" fill="#00bfff"/>
<rect x="184" y="476" width="7" height="4" fill="#ff0000"/>
<rect x="184" y="480" width="3" height="2" fill="#00ffff"/>
<rect x="191" y="471" width="2" height="2" fill="#00bfff"/>
<rect x="191" y="473" width="2" height="3" fill="#ff0000"/>
<rect x="191" y="476" width="2" height="2" fill="#00bfff"/>
<rect x="193" y="461" width="3" height="2" fill="#00ffff"/>
<rect x="193" y="463" width="3" height="2" fill="#ffb6c1"/>
<rect x="196" y="460" width="3" height="1" fill="#008000"/>
<rect x="193" y="465" width="6" height="7" fill="#ff0000"/>
<rect x="196" y="471" width="3" height="3" fill="#ff0000"/>
<rect x="203" y="461" width="5" height="2" fill="#00ffff"/>
<rect x="203" y="463" width="5" height="6" fill="#ff0000"/>
<rect x="208" y="458" width="4" height="2" fill="#ffd700"/>
<rect x="208" y="460" width="4" height="5" fill="#ff0000"/>
<rect x="212" y="456" width="5" height="5" fill="#ff0000"/>
<rect x="212" y="454" width="5" height="2" fill="#00bfff"/>
<rect x="212" y="447" width="5" height="1" fill="#ff0000"/>
<rect x="212" y="448" width="5" height="2" fill="#ffd700"/>
<rect x="217" y="443" width="5" height="5" fill="#ff0000"/>
<rect x="217" y="450" width="5" height="6" fill="#ff0000"/>
<rect x="217" y="456" width="5" height="2" fill="#00ffff"/>
<rect x="222" y="445" width="4" height="3" fill="#00bfff"/>
<rect x="222" y="441" width="10" height="4" fill="#ff0000"/>
<rect x="222" y="439" width="4" height="2" fill="#00bfff"/>
<rect x="226" y="439" width="6" height="2" fill="#00ffff"/>
<rect x="222" y="448" width="4" height="4" fill="#ffb6c1"/>
<rect x="222" y="452" width="4" height="2" fill="#ff0000"/>
<rect x="226" y="435" width="4" height="4" fill="#ff0000"/>
<rect x="226" y="445" width="6" height="2" fill="#ff0000"/>
<rect x="226" y="452" width="6" height="2" fill="#008000"/>
<rect x="226" y="456" width="4" height="2" fill="#00ffff"/>
<rect x="369" y="667" width="4" height="2" fill="#ffb6c1"/>
<rect x="397" y="549" width="5" height="1" fill="#ff0000"/>
<rect x="397" y="554" width="5" height="4" fill="#ff0000"/>
<rect x="397" y="560" width="5" height="5" fill="#ff0000"/>
<rect x="397" y="565" width="5" height="2" fill="#ba55d3"/>
<rect x="397" y="593" width="5" height="2" fill="#00bfff"/>
<rect x="397" y="597" width="5" height="2" fill="#ffb6c1"/>
<rect x="397" y="599" width="5" height="2" fill="#ba55d3"/>
<rect x="397" y="601" width="5" height="3" fill="#00bfff"/>
<rect x="397" y="604" width="5" height="2" fill="#ffb6c1"/>
<rect x="397" y="617" width="5" height="6" fill="#ff0000"/>
<rect x="468" y="571" width="7" height="2" fill="#008000"/>
<rect x="468" y="576" width="7" height="2" fill="#008000"/>
<rect x="468" y="578" width="7" height="4" fill="#ffb6c1"/>
<rect x="468" y="582" width="7" height="2" fill="#008000"/>
<rect x="468" y="588" width="7" height="1" fill="#00ffff"/>
<rect x="468" y="591" width="7" height="2" fill="#ffb6c1"/>
<rect x="468" y="614" width="7" height="1" fill="#ffb6c1"/>
<rect x="468" y="619" width="7" height="2" fill="#ffb6c1"/>
<rect x="468" y="643" width="7" height="2" fill="#ffb6c1"/>
<rect x="468" y="662" width="7" height="11" fill="#00ffff"/>
<rect x="468" y="664" width="7" height="2" fill="#008000"/>
<rect x="530" y="625" width="7" height="2" fill="#00ffff"/>
<rect x="468" y="662" width="7" height="28" fill="#00ffff"/>
<rect x="468" y="664" width="7" height="2" fill="#008000"/>
<rect x="468" y="703" width="7" height="2" fill="#00ffff"/>
<rect x="468" y="710" width="7" height="2" fill="#00ffff"/>
<rect x="468" y="714" width="7" height="4" fill="#00ffff"/>
<rect x="397" y="682" width="5" height="13" fill="#ba55d3"/>
<rect x="397" y="692" width="5" height="1" fill="#ff0000"/>
<rect x="397" y="714" width="5" height="2" fill="#ffb6c1"/>
<rect x="397" y="716" width="5" height="18" fill="#ba55d3"/>
<rect x="397" y="719" width="5" height="2" fill="#ffb6c1"/>
<rect x="397" y="725" width="5" height="2" fill="#ffb6c1"/>
<rect x="397" y="734" width="5" height="4" fill="#ff0000"/>
<rect x="530" y="712" width="7" height="2" fill="#ffb6c1"/>
<rect x="530" y="734" width="7" height="2" fill="#ffb6c1"/>
<rect x="530" y="736" width="7" height="2" fill="#ff0000"/>
<rect x="482" y="189" width="7" height="1" fill="#00ffff"/>
<rect x="402" y="250" width="5" height="2" fill="#00bfff"/>
<rect x="402" y="253" width="5" height="2" fill="#ba55d3"/>
<rect x="441" y="265" width="10" height="1" fill="#00ffff"/>
<rect x="441" y="274" width="10" height="4" fill="#00ffff"/>
<rect x="482" y="263" width="7" height="2" fill="#00ffff"/>
<rect x="475" y="317" width="7" height="1" fill="#ffd700"/>
<rect x="441" y="346" width="10" height="2" fill="#00ffff"/>
<rect x="402" y="365" width="5" height="2" fill="#ba55d3"/>
<rect x="441" y="406" width="10" height="2" fill="#008000"/>
<rect x="441" y="409" width="10" height="2" fill="#00bfff"/>
<rect x="441" y="411" width="10" height="2" fill="#008000"/>
<rect x="460" y="409" width="8" height="4" fill="#ff0000"/>
<rect x="475" y="408" width="7" height="3" fill="#ffd700"/>
<rect x="460" y="432" width="8" height="2" fill="#ff0000"/>
<rect x="564" y="194" width="7" height="2" fill="#008000"/>
<rect x="611" y="187" width="12" height="2" fill="#3c3cff"/>
<rect x="717" y="172" width="13" height="2" fill="#ba55d3"/>
<rect x="717" y="189" width="13" height="1" fill="#ba55d3"/>
<rect x="684" y="220" width="10" height="4" fill="#ffd700"/>
<rect x="694" y="255" width="11" height="2" fill="#00ffff"/>
<rect x="589" y="259" width="8" height="2" fill="#ff0000"/>
<rect x="589" y="278" width="8" height="1" fill="#ff0000"/>
<rect x="684" y="274" width="10" height="2" fill="#ffd700"/>
<rect x="611" y="285" width="12" height="2" fill="#ba55d3"/>
<rect x="611" y="292" width="12" height="2" fill="#3c3cff"/>
<rect x="717" y="311" width="13" height="2" fill="#ba55d3"/>
<rect x="730" y="315" width="16" height="5" fill="#ff0000"/>
<rect x="730" y="317" width="16" height="1" fill="#ffd700"/>
<rect x="684" y="348" width="10" height="2" fill="#ffb6c1"/>
<rect x="768" y="385" width="17" height="2" fill="#ffb6c1"/>
<rect x="611" y="400" width="12" height="2" fill="#00ffff"/>
<rect x="717" y="404" width="13" height="2" fill="#ba55d3"/>
<rect x="611" y="415" width="12" height="2" fill="#ff0000"/>
<rect x="611" y="430" width="12" height="3" fill="#ff0000"/>
<rect x="611" y="432" width="12" height="2" fill="#ba55d3"/>
<rect x="551" y="463" width="6" height="2" fill="#ffd700"/>
<rect x="768" y="506" width="17" height="2" fill="#ffd700"/>
<rect x="684" y="543" width="10" height="3" fill="#ffb6c1"/>
<rect x="684" y="546" width="10" height="2" fill="#ba55d3"/>
<rect x="571" y="582" width="12" height="2" fill="#3c3cff"/>
<rect x="589" y="653" width="8" height="1" fill="#ff0000"/>
<rect x="604" y="736" width="7" height="2" fill="#3c3cff"/>
<rect x="623" y="736" width="14" height="2" fill="#00ffff"/>
<rect x="705" y="729" width="12" height="2" fill="#ffb6c1"/>
<rect x="112" y="712" width="4" height="2" fill="#ffb6c1"/>
<rect x="112" y="727" width="4" height="2" fill="#ffb6c1"/>
<rect x="170" y="605" width="78" height="35" fill="#ffffff"/>
<rect x="174" y="606" width="3" height="2" fill="#ffd700"/>
<rect x="203" y="606" width="5" height="2" fill="#00bfff"/>
<rect x="217" y="606" width="5" height="2" fill="#00ffff"/>
<rect x="212" y="608" width="5" height="2" fill="#ff0000"/>
<rect x="180" y="610" width="4" height="2" fill="#008000"/>
<rect x="191" y="610" width="2" height="2" fill="#ffd700"/>
<rect x="226" y="610" width="6" height="2" fill="#ff0000"/>
<rect x="177" y="612" width="3" height="2" fill="#ffb6c1"/>
<rect x="180" y="612" width="4" height="2" fill="#00ffff"/>
<rect x="187" y="612" width="4" height="2" fill="#008000"/>
<rect x="203" y="612" width="5" height="2" fill="#ffb6c1"/>
<rect x="217" y="612" width="5" height="2" fill="#00ffff"/>
<rect x="226" y="612" width="6" height="2" fill="#00bfff"/>
<rect x="177" y="614" width="3" height="1" fill="#00bfff"/>
<rect x="180" y="614" width="4" height="1" fill="#ff0000"/>
<rect x="191" y="614" width="2" height="1" fill="#00bfff"/>
<rect x="208" y="614" width="4" height="1" fill="#00bfff"/>
<rect x="222" y="614" width="4" height="1" fill="#ff0000"/>
<rect x="180" y="615" width="4" height="2" fill="#ffb6c1"/>
<rect x="184" y="615" width="3" height="2" fill="#008000"/>
<rect x="187" y="615" width="4" height="2" fill="#00ffff"/>
<rect x="212" y="615" width="5" height="2" fill="#ff0000"/>
<rect x="217" y="615" width="5" height="2" fill="#00ffff"/>
<rect x="222" y="615" width="4" height="2" fill="#00bfff"/>
<rect x="226" y="615" width="6" height="2" fill="#ffb6c1"/>
<rect x="180" y="617" width="4" height="2" fill="#008000"/>
<rect x="184" y="617" width="3" height="2" fill="#ffb6c1"/>
<rect x="187" y="617" width="4" height="2" fill="#00ffff"/>
<rect x="191" y="617" width="2" height="2" fill="#00bfff"/>
<rect x="208" y="617" width="4" height="2" fill="#00bfff"/>
<rect x="217" y="617" width="5" height="2" fill="#00ffff"/>
<rect x="222" y="617" width="4" height="2" fill="#00ffff"/>
<rect x="226" y="617" width="6" height="2" fill="#00bfff"/>
<rect x="180" y="619" width="11" height="2" fill="#008000"/>
<rect x="191" y="619" width="5" height="2" fill="#ffd700"/>
<rect x="196" y="619" width="3" height="2" fill="#00bfff"/>
<rect x="203" y="619" width="5" height="2" fill="#00bfff"/>
<rect x="212" y="619" width="5" height="2" fill="#00bfff"/>
<rect x="217" y="619" width="5" height="2" fill="#ff0000"/>
<rect x="222" y="619" width="4" height="2" fill="#00ffff"/>
<rect x="226" y="619" width="6" height="2" fill="#ffb6c1"/>
<rect x="180" y="621" width="4" height="2" fill="#ff0000"/>
<rect x="187" y="621" width="4" height="2" fill="#008000"/>
<rect x="191" y="621" width="2" height="2" fill="#ff0000"/>
<rect x="193" y="621" width="6" height="2" fill="#008000"/>
<rect x="203" y="621" width="9" height="2" fill="#00bfff"/>
<rect x="212" y="621" width="10" height="2" fill="#ff0000"/>
<rect x="222" y="621" width="4" height="2" fill="#008000"/>
<rect x="226" y="621" width="6" height="2" fill="#00bfff"/>
<rect x="184" y="623" width="3" height="2" fill="#ffb6c1"/>
<rect x="187" y="623" width="4" height="2" fill="#00ffff"/>
<rect x="191" y="623" width="2" height="2" fill="#00bfff"/>
<rect x="196" y="623" width="3" height="2" fill="#008000"/>
<rect x="199" y="623" width="4" height="2" fill="#ff0000"/>
<rect x="203" y="623" width="5" height="2" fill="#008000"/>
<rect x="208" y="623" width="9" height="2" fill="#ff0000"/>
<rect x="217" y="623" width="15" height="2" fill="#008000"/>
<rect x="187" y="625" width="4" height="2" fill="#00bfff"/>
<rect x="193" y="625" width="3" height="2" fill="#00ffff"/>
<rect x="196" y="625" width="12" height="2" fill="#ffb6c1"/>
<rect x="208" y="625" width="4" height="2" fill="#ff0000"/>
<rect x="217" y="625" width="5" height="2" fill="#00bfff"/>
<rect x="222" y="625" width="10" height="2" fill="#008000"/>
<rect x="180" y="627" width="7" height="1" fill="#ff0000"/>
<rect x="187" y="627" width="4" height="1" fill="#00ffff"/>
<rect x="191" y="627" width="2" height="1" fill="#ff0000"/>
<rect x="196" y="627" width="3" height="1" fill="#00ffff"/>
<rect x="199" y="627" width="4" height="1" fill="#ff0000"/>
<rect x="203" y="627" width="5" height="1" fill="#3c3cff"/>
<rect x="208" y="627" width="4" height="1" fill="#ff0000"/>
<rect x="217" y="627" width="5" height="1" fill="#008000"/>
<rect x="177" y="628" width="10" height="2" fill="#ff0000"/>
<rect x="187" y="628" width="4" height="2" fill="#00ffff"/>
<rect x="191" y="628" width="2" height="2" fill="#00bfff"/>
<rect x="193" y="628" width="3" height="2" fill="#ff0000"/>
<rect x="196" y="628" width="3" height="2" fill="#00ffff"/>
<rect x="199" y="628" width="4" height="2" fill="#ff0000"/>
<rect x="203" y="628" width="5" height="2" fill="#ffb6c1"/>
<rect x="217" y="628" width="5" height="2" fill="#00bfff"/>
<rect x="177" y="630" width="3" height="2" fill="#00bfff"/>
<rect x="180" y="630" width="4" height="2" fill="#00ffff"/>
<rect x="184" y="630" width="3" height="2" fill="#00bfff"/>
<rect x="187" y="630" width="4" height="2" fill="#00ffff"/>
<rect x="191" y="630" width="2" height="2" fill="#00bfff"/>
<rect x="193" y="630" width="10" height="2" fill="#ff0000"/>
<rect x="174" y="632" width="6" height="2" fill="#3c3cff"/>
<rect x="180" y="632" width="4" height="2" fill="#00bfff"/>
<rect x="184" y="632" width="7" height="2" fill="#00ffff"/>
<rect x="191" y="632" width="2" height="2" fill="#00bfff"/>
<rect x="193" y="632" width="6" height="2" fill="#ff0000"/>
<rect x="170" y="634" width="4" height="2" fill="#00bfff"/>
<rect x="174" y="634" width="3" height="2" fill="#00ffff"/>
<rect x="177" y="634" width="3" height="2" fill="#3c3cff"/>
<rect x="180" y="634" width="4" height="2" fill="#00bfff"/>
<rect x="184" y="634" width="3" height="2" fill="#ff0000"/>
<rect x="187" y="634" width="4" height="2" fill="#ffb6c1"/>
<rect x="191" y="634" width="2" height="2" fill="#00bfff"/>
<rect x="196" y="634" width="3" height="2" fill="#ff0000"/>
<rect x="170" y="636" width="2" height="2" fill="#00ffff"/>
<rect x="172" y="636" width="5" height="2" fill="#ff0000"/>
<rect x="177" y="636" width="3" height="2" fill="#ba55d3"/>
<rect x="180" y="636" width="7" height="2" fill="#ff0000"/>
<rect x="170" y="638" width="2" height="2" fill="#ffb6c1"/>
<rect x="172" y="638" width="2" height="2" fill="#ff0000"/>
<rect x="177" y="638" width="7" height="2" fill="#ff0000"/>
<rect x="193" y="638" width="3" height="2" fill="#ff0000"/>
<rect x="238" y="600" width="6" height="1" fill="#ff0000"/>
<rect x="238" y="601" width="6" height="1" fill="#00ffff"/>
<rect x="244" y="601" width="4" height="1" fill="#00bfff"/>
<rect x="238" y="602" width="6" height="2" fill="#3c3cff"/>
<rect x="244" y="602" width="4" height="2" fill="#ff0000"/>
<rect x="232" y="604" width="6" height="2" fill="#3c3cff"/>
<rect x="238" y="604" width="6" height="2" fill="#ff0000"/>
<rect x="244" y="604" width="4" height="2" fill="#00bfff"/>
<rect x="232" y="606" width="6" height="2" fill="#00bfff"/>
<rect x="238" y="606" width="10" height="2" fill="#ff0000"/>
<rect x="232" y="608" width="6" height="2" fill="#00bfff"/>
<rect x="238" y="608" width="6" height="2" fill="#00bfff"/>
<rect x="232" y="610" width="6" height="2" fill="#00bfff"/>
<rect x="238" y="610" width="6" height="2" fill="#ff0000"/>
<rect x="232" y="612" width="6" height="2" fill="#00ffff"/>
<rect x="232" y="614" width="6" height="1" fill="#00ffff"/>
<rect x="238" y="614" width="6" height="1" fill="#ff0000"/>
<rect x="244" y="614" width="4" height="1" fill="#00bfff"/>
<rect x="232" y="615" width="6" height="2" fill="#00ffff"/>
<rect x="238" y="615" width="6" height="2" fill="#008000"/>
<rect x="244" y="615" width="4" height="2" fill="#00bfff"/>
<rect x="232" y="617" width="12" height="2" fill="#00bfff"/>
<rect x="244" y="617" width="4" height="2" fill="#008000"/>
<rect x="232" y="619" width="6" height="2" fill="#3c3cff"/>
<rect x="238" y="619" width="6" height="2" fill="#008000"/>
<rect x="244" y="619" width="4" height="2" fill="#00bfff"/>
<rect x="238" y="621" width="10" height="2" fill="#008000"/>
<rect x="232" y="623" width="6" height="2" fill="#ffb6c1"/>
<rect x="231" y="580" width="76" height="47" fill="#ffffff"/>
<rect x="269" y="580" width="4" height="2" fill="#00ffff"/>
<rect x="294" y="580" width="7" height="2" fill="#00bfff"/>
<rect x="301" y="580" width="6" height="2" fill="#008000"/>
<rect x="260" y="582" width="9" height="2" fill="#00bfff"/>
<rect x="269" y="582" width="4" height="2" fill="#ff0000"/>
<rect x="297" y="582" width="4" height="4" fill="#00bfff"/>
<rect x="301" y="582" width="6" height="2" fill="#008000"/>
<rect x="260" y="584" width="13" height="2" fill="#ff0000"/>
<rect x="294" y="584" width="3" height="2" fill="#008000"/>
<rect x="301" y="584" width="6" height="2" fill="#008000"/>
<rect x="260" y="586" width="9" height="2" fill="#ff0000"/>
<rect x="294" y="586" width="7" height="2" fill="#008000"/>
<rect x="301" y="586" width="3" height="2" fill="#00bfff"/>
<rect x="304" y="586" width="3" height="2" fill="#008000"/>
<rect x="260" y="588" width="5" height="1" fill="#ff0000"/>
<rect x="291" y="588" width="3" height="1" fill="#00bfff"/>
<rect x="294" y="588" width="7" height="1" fill="#008000"/>
<rect x="301" y="588" width="3" height="1" fill="#ffb6c1"/>
<rect x="252" y="589" width="4" height="2" fill="#00bfff"/>
<rect x="260" y="589" width="5" height="2" fill="#ff0000"/>
<rect x="287" y="589" width="4" height="2" fill="#008000"/>
<rect x="291" y="589" width="3" height="2" fill="#00bfff"/>
<rect x="294" y="589" width="3" height="2" fill="#008000"/>
<rect x="297" y="589" width="4" height="2" fill="#00ffff"/>
<rect x="256" y="591" width="9" height="2" fill="#ff0000"/>
<rect x="287" y="591" width="14" height="2" fill="#008000"/>
<rect x="248" y="593" width="4" height="2" fill="#00bfff"/>
<rect x="256" y="593" width="4" height="2" fill="#ff0000"/>
<rect x="260" y="593" width="5" height="2" fill="#ffb6c1"/>
<rect x="287" y="593" width="4" height="2" fill="#00ffff"/>
<rect x="291" y="593" width="10" height="2" fill="#008000"/>
<rect x="248" y="595" width="8" height="2" fill="#ff0000"/>
<rect x="256" y="595" width="4" height="2" fill="#00bfff"/>
<rect x="280" y="595" width="21" height="2" fill="#008000"/>
<rect x="244" y="597" width="4" height="2" fill="#00bfff"/>
<rect x="248" y="597" width="12" height="2" fill="#ff0000"/>
<rect x="280" y="597" width="14" height="2" fill="#008000"/>
<rect x="238" y="599" width="6" height="2" fill="#ff0000"/>
<rect x="244" y="599" width="8" height="2" fill="#00bfff"/>
<rect x="252" y="599" width="4" height="2" fill="#ff0000"/>
<rect x="256" y="599" width="4" height="2" fill="#008000"/>
<rect x="277" y="599" width="10" height="2" fill="#008000"/>
<rect x="287" y="599" width="4" height="2" fill="#00bfff"/>
<rect x="291" y="599" width="3" height="1" fill="#008000"/>
<rect x="238" y="601" width="6" height="1" fill="#00bfff"/>
<rect x="244" y="601" width="4" height="1" fill="#ff0000"/>
<rect x="252" y="601" width="4" height="1" fill="#ffb6c1"/>
<rect x="273" y="601" width="4" height="1" fill="#ffd700"/>
<rect x="277" y="601" width="7" height="1" fill="#00bfff"/>
<rect x="284" y="601" width="7" height="1" fill="#008000"/>
<rect x="238" y="602" width="6" height="2" fill="#3c3cff"/>
<rect x="244" y="602" width="4" height="2" fill="#ff0000"/>
<rect x="248" y="602" width="8" height="2" fill="#00ffff"/>
<rect x="269" y="602" width="4" height="4" fill="#008000"/>
<rect x="273" y="602" width="4" height="8" fill="#00ffff"/>
<rect x="277" y="602" width="10" height="2" fill="#008000"/>
<rect x="232" y="604" width="6" height="2" fill="#3c3cff"/>
<rect x="238" y="604" width="6" height="2" fill="#ff0000"/>
<rect x="244" y="604" width="4" height="2" fill="#00bfff"/>
<rect x="248" y="604" width="4" height="2" fill="#ff0000"/>
<rect x="277" y="604" width="10" height="2" fill="#008000"/>
<rect x="232" y="606" width="6" height="6" fill="#00bfff"/>
<rect x="238" y="606" width="10" height="2" fill="#ff0000"/>
<rect x="248" y="606" width="4" height="2" fill="#00ffff"/>
<rect x="265" y="606" width="8" height="2" fill="#00bfff"/>
<rect x="277" y="606" width="7" height="2" fill="#008000"/>
<rect x="238" y="608" width="6" height="2" fill="#00bfff"/>
<rect x="248" y="608" width="4" height="2" fill="#ffd700"/>
<rect x="252" y="608" width="4" height="4" fill="#008000"/>
<rect x="260" y="608" width="5" height="2" fill="#00bfff"/>
<rect x="265" y="608" width="8" height="2" fill="#00ffff"/>
<rect x="277" y="608" width="3" height="2" fill="#008000"/>
<rect x="231" y="610" width="1" height="2" fill="#ff0000"/>
<rect x="238" y="610" width="6" height="2" fill="#ff0000"/>
<rect x="256" y="610" width="4" height="2" fill="#00bfff"/>
<rect x="260" y="610" width="9" height="2" fill="#008000"/>
<rect x="269" y="610" width="8" height="2" fill="#00ffff"/>
<rect x="232" y="612" width="6" height="2" fill="#00ffff"/>
<rect x="252" y="612" width="4" height="2" fill="#00bfff"/>
<rect x="256" y="612" width="13" height="2" fill="#008000"/>
<rect x="231" y="614" width="1" height="1" fill="#00bfff"/>
<rect x="232" y="614" width="6" height="3" fill="#00ffff"/>
<rect x="238" y="614" width="6" height="1" fill="#ff0000"/>
<rect x="244" y="614" width="4" height="3" fill="#00bfff"/>
<rect x="248" y="614" width="4" height="1" fill="#00ffff"/>
<rect x="252" y="614" width="17" height="1" fill="#008000"/>
<rect x="238" y="615" width="6" height="2" fill="#008000"/>
<rect x="248" y="615" width="12" height="2" fill="#008000"/>
<rect x="231" y="615" width="1" height="2" fill="#ffb6c1"/>
<rect x="231" y="617" width="13" height="2" fill="#00bfff"/>
<rect x="244" y="617" width="16" height="2" fill="#008000"/>
<rect x="231" y="619" width="1" height="2" fill="#ffb6c1"/>
<rect x="232" y="619" width="6" height="2" fill="#3c3cff"/>
<rect x="238" y="619" width="6" height="2" fill="#008000"/>
<rect x="244" y="619" width="4" height="2" fill="#00bfff"/>
<rect x="248" y="619" width="8" height="2" fill="#00ffff"/>
<rect x="231" y="621" width="1" height="2" fill="#00bfff"/>
<rect x="238" y="621" width="10" height="2" fill="#008000"/>
<rect x="252" y="621" width="4" height="2" fill="#00bfff"/>
<rect x="231" y="623" width="1" height="4" fill="#008000"/>
<rect x="232" y="623" width="6" height="2" fill="#ffb6c1"/>
<rect x="268" y="500" width="39" height="72" fill="#ffffff"/>
<rect x="301" y="500" width="3" height="2" fill="#ffd700"/>
<rect x="301" y="502" width="3" height="2" fill="#00ffff"/>
<rect x="304" y="504" width="3" height="2" fill="#ffd700"/>
<rect x="304" y="506" width="3" height="2" fill="#00ffff"/>
<rect x="304" y="508" width="3" height="2" fill="#ffd700"/>
<rect x="284" y="502" width="7" height="4" fill="#ff0000"/>
<rect x="284" y="506" width="3" height="4" fill="#ff0000"/>
<rect x="280" y="510" width="4" height="2" fill="#00bfff"/>
<rect x="297" y="508" width="4" height="2" fill="#ff0000"/>
<rect x="294" y="510" width="3" height="2" fill="#ff0000"/>
<rect x="297" y="512" width="4" height="3" fill="#ff0000"/>
<rect x="291" y="512" width="3" height="1" fill="#00bfff"/>
<rect x="291" y="513" width="3" height="2" fill="#ff0000"/>
<rect x="291" y="515" width="3" height="2" fill="#00bfff"/>
<rect x="301" y="512" width="3" height="1" fill="#00ffff"/>
<rect x="301" y="517" width="3" height="2" fill="#ffd700"/>
<rect x="284" y="519" width="3" height="2" fill="#3c3cff"/>
<rect x="287" y="519" width="7" height="2" fill="#ff0000"/>
<rect x="280" y="521" width="7" height="2" fill="#ff0000"/>
<rect x="294" y="521" width="3" height="2" fill="#ff0000"/>
<rect x="301" y="523" width="3" height="1" fill="#ffd700"/>
<rect x="277" y="524" width="3" height="2" fill="#ff0000"/>
<rect x="284" y="524" width="3" height="2" fill="#00bfff"/>
<rect x="294" y="524" width="3" height="2" fill="#00ffff"/>
<rect x="280" y="526" width="7" height="2" fill="#ff0000"/>
<rect x="297" y="526" width="4" height="2" fill="#00ffff"/>
<rect x="280" y="528" width="4" height="6" fill="#00bfff"/>
<rect x="301" y="528" width="3" height="4" fill="#ffd700"/>
<rect x="287" y="530" width="4" height="4" fill="#ff0000"/>
<rect x="297" y="530" width="4" height="2" fill="#ffd700"/>
<rect x="294" y="532" width="3" height="2" fill="#ffd700"/>
<rect x="297" y="532" width="4" height="2" fill="#ff0000"/>
<rect x="277" y="534" width="7" height="2" fill="#00bfff"/>
<rect x="294" y="534" width="3" height="5" fill="#ff0000"/>
<rect x="277" y="536" width="7" height="1" fill="#ff0000"/>
<rect x="284" y="536" width="7" height="1" fill="#00ffff"/>
<rect x="280" y="537" width="4" height="2" fill="#ff0000"/>
<rect x="287" y="537" width="7" height="4" fill="#ff0000"/>
<rect x="284" y="539" width="3" height="2" fill="#00bfff"/>
<rect x="277" y="541" width="3" height="2" fill="#ff0000"/>
<rect x="284" y="541" width="3" height="2" fill="#ff0000"/>
<rect x="273" y="543" width="4" height="2" fill="#00bfff"/>
<rect x="277" y="543" width="10" height="2" fill="#ff0000"/>
<rect x="277" y="545" width="10" height="2" fill="#ff0000"/>
<rect x="284" y="546" width="3" height="3" fill="#00ffff"/>
<rect x="291" y="547" width="3" height="3" fill="#ff0000"/>
<rect x="277" y="549" width="3" height="3" fill="#ff0000"/>
<rect x="280" y="550" width="4" height="2" fill="#00bfff"/>
<rect x="284" y="549" width="3" height="3" fill="#ff0000"/>
<rect x="280" y="552" width="7" height="2" fill="#ff0000"/>
<rect x="277" y="554" width="14" height="2" fill="#ff0000"/>
<rect x="277" y="556" width="7" height="2" fill="#ff0000"/>
<rect x="280" y="558" width="4" height="2" fill="#ff0000"/>
<rect x="284" y="558" width="3" height="2" fill="#00ffff"/>
<rect x="277" y="560" width="3" height="2" fill="#00bfff"/>
<rect x="277" y="563" width="7" height="4" fill="#ff0000"/>
<rect x="280" y="567" width="4" height="2" fill="#ff0000"/>
<rect x="269" y="565" width="4" height="4" fill="#ff0000"/>
<rect x="273" y="567" width="7" height="5" fill="#ff0000"/>
<rect x="269" y="569" width="4" height="2" fill="#00bfff"/>
</g>
<g stroke="#b0b0b0" stroke-width="1.1" fill="none">
<line x1="138.50" y1="100.5" x2="138.50" y2="793.5"/>
<line x1="230.50" y1="100.5" x2="230.50" y2="793.5"/>
<line x1="323.50" y1="100.5" x2="323.50" y2="793.5"/>
<line x1="415.50" y1="100.5" x2="415.50" y2="793.5"/>
<line x1="508.50" y1="100.5" x2="508.50" y2="793.5"/>
<line x1="600.50" y1="100.5" x2="600.50" y2="793.5"/>
<line x1="692.50" y1="100.5" x2="692.50" y2="793.5"/>
<line x1="785.50" y1="100.5" x2="785.50" y2="793.5"/>
<line x1="92.5" y1="793.50" x2="785.5" y2="793.50"/>
<line x1="92.5" y1="669.50" x2="785.5" y2="669.50"/>
<line x1="92.5" y1="545.50" x2="785.5" y2="545.50"/>
<line x1="92.5" y1="421.50" x2="785.5" y2="421.50"/>
<line x1="92.5" y1="298.50" x2="785.5" y2="298.50"/>
<line x1="92.5" y1="174.50" x2="785.5" y2="174.50"/>
</g>
<g stroke="#000" stroke-width="1.1" fill="none">
<line x1="138.50" y1="793.5" x2="138.50" y2="798.40"/>
<line x1="230.50" y1="793.5" x2="230.50" y2="798.40"/>
<line x1="323.50" y1="793.5" x2="323.50" y2="798.40"/>
<line x1="415.50" y1="793.5" x2="415.50" y2="798.40"/>
<line x1="508.50" y1="793.5" x2="508.50" y2="798.40"/>
<line x1="600.50" y1="793.5" x2="600.50" y2="798.40"/>
<line x1="692.50" y1="793.5" x2="692.50" y2="798.40"/>
<line x1="785.50" y1="793.5" x2="785.50" y2="798.40"/>
<line x1="92.5" y1="793.50" x2="87.60" y2="793.50"/>
<line x1="92.5" y1="669.50" x2="87.60" y2="669.50"/>
<line x1="92.5" y1="545.50" x2="87.60" y2="545.50"/>
<line x1="92.5" y1="421.50" x2="87.60" y2="421.50"/>
<line x1="92.5" y1="298.50" x2="87.60" y2="298.50"/>
<line x1="92.5" y1="174.50" x2="87.60" y2="174.50"/>
</g>
<g stroke="#000" stroke-width="0.85" fill="none">
<line x1="92.50" y1="793.5" x2="92.50" y2="796.30"/>
<line x1="115.50" y1="793.5" x2="115.50" y2="796.30"/>
<line x1="161.50" y1="793.5" x2="161.50" y2="796.30"/>
<line x1="184.50" y1="793.5" x2="184.50" y2="796.30"/>
<line x1="207.50" y1="793.5" x2="207.50" y2="796.30"/>
<line x1="254.50" y1="793.5" x2="254.50" y2="796.30"/>
<line x1="277.50" y1="793.5" x2="277.50" y2="796.30"/>
<line x1="300.50" y1="793.5" x2="300.50" y2="796.30"/>
<line x1="346.50" y1="793.5" x2="346.50" y2="796.30"/>
<line x1="369.50" y1="793.5" x2="369.50" y2="796.30"/>
<line x1="392.50" y1="793.5" x2="392.50" y2="796.30"/>
<line x1="438.50" y1="793.5" x2="438.50" y2="796.30"/>
<line x1="461.50" y1="793.5" x2="461.50" y2="796.30"/>
<line x1="485.50" y1="793.5" x2="485.50" y2="796.30"/>
<line x1="531.50" y1="793.5" x2="531.50" y2="796.30"/>
<line x1="554.50" y1="793.5" x2="554.50" y2="796.30"/>
<line x1="577.50" y1="793.5" x2="577.50" y2="796.30"/>
<line x1="623.50" y1="793.5" x2="623.50" y2="796.30"/>
<line x1="646.50" y1="793.5" x2="646.50" y2="796.30"/>
<line x1="669.50" y1="793.5" x2="669.50" y2="796.30"/>
<line x1="716.50" y1="793.5" x2="716.50" y2="796.30"/>
<line x1="739.50" y1="793.5" x2="739.50" y2="796.30"/>
<line x1="762.50" y1="793.5" x2="762.50" y2="796.30"/>
<line x1="92.5" y1="762.50" x2="89.70" y2="762.50"/>
<line x1="92.5" y1="731.50" x2="89.70" y2="731.50"/>
<line x1="92.5" y1="700.50" x2="89.70" y2="700.50"/>
<line x1="92.5" y1="638.50" x2="89.70" y2="638.50"/>
<line x1="92.5" y1="607.50" x2="89.70" y2="607.50"/>
<line x1="92.5" y1="576.50" x2="89.70" y2="576.50"/>
<line x1="92.5" y1="514.50" x2="89.70" y2="514.50"/>
<line x1="92.5" y1="483.50" x2="89.70" y2="483.50"/>
<line x1="92.5" y1="452.50" x2="89.70" y2="452.50"/>
<line x1="92.5" y1="391.50" x2="89.70" y2="391.50"/>
<line x1="92.5" y1="360.50" x2="89.70" y2="360.50"/>
<line x1="92.5" y1="329.50" x2="89.70" y2="329.50"/>
<line x1="92.5" y1="267.50" x2="89.70" y2="267.50"/>
<line x1="92.5" y1="236.50" x2="89.70" y2="236.50"/>
<line x1="92.5" y1="205.50" x2="89.70" y2="205.50"/>
<line x1="92.5" y1="143.50" x2="89.70" y2="143.50"/>
<line x1="92.5" y1="112.50" x2="89.70" y2="112.50"/>
</g>
<rect x="92.5" y="100.5" width="693.0" height="693.0" fill="none" stroke="#000" stroke-width="1.1"/>
<g shape-rendering="crispEdges">
<rect x="816" y="82" width="31" height="90" fill="#00bfff"/>
<rect x="816" y="172" width="31" height="90" fill="#00ffff"/>
<rect x="816" y="262" width="31" height="90" fill="#ffd700"/>
<rect x="816" y="352" width="31" height="90" fill="#ffb6c1"/>
<rect x="816" y="442" width="31" height="90" fill="#ba55d3"/>
<rect x="816" y="532" width="31" height="90" fill="#3c3cff"/>
<rect x="816" y="622" width="31" height="90" fill="#ff0000"/>
<rect x="816" y="712" width="31" height="90" fill="#008000"/>
</g>
<rect x="816.5" y="82.5" width="30.0" height="720.0" fill="none" stroke="#000" stroke-width="1.1"/>
<g stroke="#000" stroke-width="1.1" fill="none">
<line x1="846.5" y1="127.5" x2="851.4" y2="127.5"/>
<line x1="846.5" y1="217.5" x2="851.4" y2="217.5"/>
<line x1="846.5" y1="307.5" x2="851.4" y2="307.5"/>
<line x1="846.5" y1="397.5" x2="851.4" y2="397.5"/>
<line x1="846.5" y1="487.5" x2="851.4" y2="487.5"/>
<line x1="846.5" y1="577.5" x2="851.4" y2="577.5"/>
<line x1="846.5" y1="667.5" x2="851.4" y2="667.5"/>
<line x1="846.5" y1="757.5" x2="851.4" y2="757.5"/>
</g>
<g stroke="#000" stroke-width="0.85" fill="none">
<line x1="846.5" y1="82.5" x2="849.3" y2="82.5"/>
<line x1="846.5" y1="172.5" x2="849.3" y2="172.5"/>
<line x1="846.5" y1="262.5" x2="849.3" y2="262.5"/>
<line x1="846.5" y1="352.5" x2="849.3" y2="352.5"/>
<line x1="846.5" y1="442.5" x2="849.3" y2="442.5"/>
<line x1="846.5" y1="532.5" x2="849.3" y2="532.5"/>
<line x1="846.5" y1="622.5" x2="849.3" y2="622.5"/>
<line x1="846.5" y1="712.5" x2="849.3" y2="712.5"/>
<line x1="846.5" y1="802.5" x2="849.3" y2="802.5"/>
</g>
<text x="149.23" y="32.0" font-size="30.43" text-anchor="start" textLength="57.86" lengthAdjust="spacingAndGlyphs">NAL</text>
<text x="215.31" y="32.0" font-size="30.43" text-anchor="start" textLength="71.32" lengthAdjust="spacingAndGlyphs">CADI</text>
<text x="295.17" y="32.0" font-size="30.43" text-anchor="start" textLength="10.99" lengthAdjust="spacingAndGlyphs">-</text>
<text x="314.53" y="32.0" font-size="30.43" text-anchor="start" textLength="54.78" lengthAdjust="spacingAndGlyphs">Sep</text>
<text x="378.14" y="32.0" font-size="30.43" text-anchor="start" textLength="36.66" lengthAdjust="spacingAndGlyphs">07</text>
<text x="423.76" y="32.0" font-size="30.43" text-anchor="start" textLength="129.95" lengthAdjust="spacingAndGlyphs">21:15:00</text>
<text x="562.67" y="32.0" font-size="30.43" text-anchor="start" textLength="73.86" lengthAdjust="spacingAndGlyphs">2023</text>
<text x="645.4" y="32.0" font-size="30.43" text-anchor="start" textLength="57.97" lengthAdjust="spacingAndGlyphs">UTC</text>
<text x="337.06" y="842.0" font-size="26.09" text-anchor="start" textLength="123.51" lengthAdjust="spacingAndGlyphs">Frequency</text>
<text x="468.57" y="842.0" font-size="26.09" text-anchor="start" textLength="70.11" lengthAdjust="spacingAndGlyphs">(MHz)</text>
<text transform="translate(27.9,560.7) rotate(-90)" font-size="26.09" text-anchor="start" textLength="77.76" lengthAdjust="spacingAndGlyphs">Virtual</text>
<text transform="translate(27.9,473.79) rotate(-90)" font-size="26.09" text-anchor="start" textLength="76.47" lengthAdjust="spacingAndGlyphs">height</text>
<text transform="translate(27.9,390.5) rotate(-90)" font-size="26.09" text-anchor="start" textLength="56.18" lengthAdjust="spacingAndGlyphs">(km)</text>
<text transform="translate(943.2,550.3) rotate(-90)" font-size="26.09" text-anchor="start" textLength="98.61" lengthAdjust="spacingAndGlyphs">Azimuth</text>
<text transform="translate(943.2,443.41) rotate(-90)" font-size="26.09" text-anchor="start" textLength="107.21" lengthAdjust="spacingAndGlyphs">Direction</text>
<text x="855.34" y="133.0" font-size="17.39" text-anchor="start" textLength="35.8" lengthAdjust="spacingAndGlyphs">NNE</text>
<text x="855.75" y="223.0" font-size="17.39" text-anchor="start" textLength="10.86" lengthAdjust="spacingAndGlyphs">E</text>
<text x="855.23" y="313.0" font-size="17.39" text-anchor="start" textLength="31.39" lengthAdjust="spacingAndGlyphs">SSE</text>
<text x="855.18" y="403.0" font-size="17.39" text-anchor="start" textLength="37.01" lengthAdjust="spacingAndGlyphs">SSW</text>
<text x="856.37" y="493.0" font-size="17.39" text-anchor="start" textLength="16.05" lengthAdjust="spacingAndGlyphs">W</text>
<text x="855.63" y="583.0" font-size="17.39" text-anchor="start" textLength="40.88" lengthAdjust="spacingAndGlyphs">NNW</text>
<text x="855.79" y="673.0" font-size="17.39" text-anchor="start" textLength="61.8" lengthAdjust="spacingAndGlyphs">Vertical</text>
<text x="855.64" y="763.0" font-size="17.39" text-anchor="start" textLength="63.02" lengthAdjust="spacingAndGlyphs">X-mode</text>
<text x="132.89" y="815.0" font-size="17.39" text-anchor="start" textLength="10.48" lengthAdjust="spacingAndGlyphs">2</text>
<text x="226.05" y="815.0" font-size="17.39" text-anchor="start" textLength="10.54" lengthAdjust="spacingAndGlyphs">4</text>
<text x="318.33" y="815.0" font-size="17.39" text-anchor="start" textLength="10.23" lengthAdjust="spacingAndGlyphs">6</text>
<text x="410.48" y="815.0" font-size="17.39" text-anchor="start" textLength="10.85" lengthAdjust="spacingAndGlyphs">8</text>
<text x="497.57" y="815.0" font-size="17.39" text-anchor="start" textLength="20.76" lengthAdjust="spacingAndGlyphs">10</text>
<text x="589.69" y="815.0" font-size="17.39" text-anchor="start" textLength="20.56" lengthAdjust="spacingAndGlyphs">12</text>
<text x="682.64" y="815.0" font-size="17.39" text-anchor="start" textLength="21.11" lengthAdjust="spacingAndGlyphs">14</text>
<text x="774.15" y="815.0" font-size="17.39" text-anchor="start" textLength="21.03" lengthAdjust="spacingAndGlyphs">16</text>
<text x="71.17" y="799.0" font-size="17.39" text-anchor="start" textLength="9.93" lengthAdjust="spacingAndGlyphs">0</text>
<text x="49.78" y="675.0" font-size="17.39" text-anchor="start" textLength="31.58" lengthAdjust="spacingAndGlyphs">200</text>
<text x="49.65" y="552.0" font-size="17.39" text-anchor="start" textLength="31.72" lengthAdjust="spacingAndGlyphs">400</text>
<text x="49.8" y="428.0" font-size="17.39" text-anchor="start" textLength="31.57" lengthAdjust="spacingAndGlyphs">600</text>
<text x="49.81" y="304.0" font-size="17.39" text-anchor="start" textLength="31.55" lengthAdjust="spacingAndGlyphs">800</text>
<text x="39.46" y="180.0" font-size="17.39" text-anchor="start" textLength="41.76" lengthAdjust="spacingAndGlyphs">1000</text>
</svg>
</body></html>
